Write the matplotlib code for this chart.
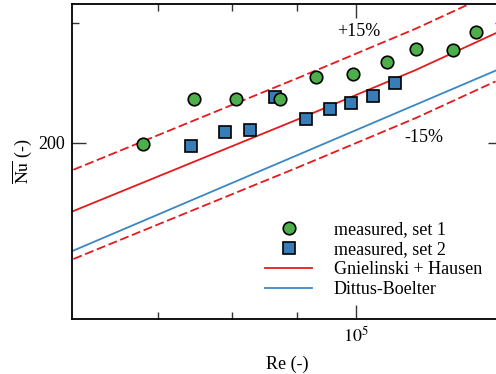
import matplotlib.pyplot as plt
from matplotlib.ticker import FixedLocator, NullFormatter, FixedFormatter

plt.rcParams['font.family'] = ['Liberation Serif', 'DejaVu Serif']
plt.rcParams['mathtext.fontset'] = 'stix'

# measured points
re_set1 = [68200, 74800, 80600, 87200, 93100, 99500, 105800, 111400, 119100, 124200]
nu_set1 = [199.3, 232.1, 232.0, 231.8, 250.3, 252.3, 263.3, 275.1, 273.6, 291.1]

re_set2 = [74400, 79000, 82600, 86400, 91400, 95400, 99200, 103200, 107300]
nu_set2 = [198.2, 207.4, 208.9, 233.9, 216.9, 224.4, 229.2, 234.4, 244.7]

# correlation lines
re_gn = [60150, 90500, 111400, 128600]
nu_gn = [158.9, 217.4, 256.0, 289.8]
nu_gn_up = [182.7, 250.0, 294.4, 333.3]
nu_gn_lo = [135.1, 184.8, 217.6, 246.3]

re_db = [60150, 128600]
nu_db = [139.0, 255.4]

c_green = '#4daf4a'
c_blue = '#377eb8'
c_red = '#e41a1c'
c_line_blue = '#3a87c4'

W, H = 496, 374
x0, x1, y0, y1 = 72, 501.5, 4, 319  # axes box in pixels


def ax_frac(px, py):
    return (px - x0) / (x1 - x0), (y1 - py) / (y1 - y0)


fig = plt.figure(figsize=(W / 100, H / 100), dpi=100)
ax = fig.add_axes([x0 / W, 1 - y1 / H, (x1 - x0) / W, (y1 - y0) / H])

ax.plot(re_gn, nu_gn_up, color=c_red, lw=1.3, dashes=[5, 2])
ax.plot(re_gn, nu_gn_lo, color=c_red, lw=1.3, dashes=[5, 2])
ax.plot(re_set1, nu_set1, 'o', ms=9, mfc=c_green, mec='black', mew=1.2,
        label='measured, set 1', zorder=4)
ax.plot(re_set2, nu_set2, 's', ms=8.5, mfc=c_blue, mec='black', mew=1.2,
        label='measured, set 2', zorder=3)
ax.plot(re_gn, nu_gn, color=c_red, lw=1.3, label='Gnielinski + Hausen')
ax.plot(re_db, nu_db, color=c_line_blue, lw=1.3, label='Dittus-Boelter')

ax.set_xscale('log')
ax.set_yscale('log')
ax.set_xlim(6.0e4, 1.3e5)
ax.set_ylim(110.3, 320)

ax.xaxis.set_major_locator(FixedLocator([1e5]))
ax.xaxis.set_major_formatter(FixedFormatter([r'$10^5$']))
ax.xaxis.set_minor_locator(FixedLocator([7e4, 8e4, 9e4]))
ax.xaxis.set_minor_formatter(NullFormatter())
ax.yaxis.set_major_locator(FixedLocator([200]))
ax.yaxis.set_major_formatter(FixedFormatter(['200']))
ax.yaxis.set_minor_locator(FixedLocator([300]))
ax.yaxis.set_minor_formatter(NullFormatter())

ax.tick_params(which='both', direction='in', top=True, right=True,
               labelsize=13, color='#333333')
ax.tick_params(which='major', length=10, width=1, pad=5)
ax.tick_params(which='minor', length=5, width=1)
for sp in ax.spines.values():
    sp.set_linewidth(1.3)

ax.set_xlabel('Re (-)', fontsize=13, labelpad=7)
ax.set_ylabel(r'$\overline{\mathrm{Nu}}$ (-)', fontsize=13, labelpad=3)

ax.text(*ax_frac(359, 31), '+15%', fontsize=13, ha='center', va='center',
        transform=ax.transAxes)
ax.text(*ax_frac(424, 138), '-15%', fontsize=13, ha='center', va='center',
        transform=ax.transAxes)

ax.legend(loc='upper left', bbox_to_anchor=ax_frac(258, 214),
          frameon=False, fontsize=13, handlelength=2.6, handletextpad=1.2,
          labelspacing=0.16, borderaxespad=0)

fig.savefig('out.png', dpi=100)
